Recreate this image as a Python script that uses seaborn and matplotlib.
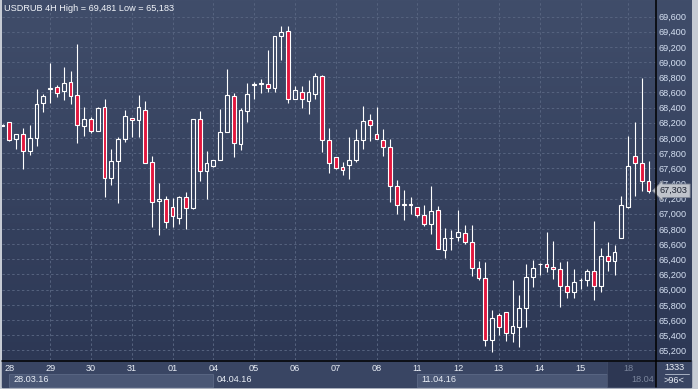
import numpy as np
import pandas as pd
import matplotlib
matplotlib.use("Agg")
import matplotlib.pyplot as plt
import matplotlib.transforms as mtransforms
from matplotlib.patches import Rectangle
from matplotlib.lines import Line2D
from matplotlib.colors import LinearSegmentedColormap
import seaborn as sns

# ---- data (one row per candle) ----
title = "USDRUB 4H High = 69,481 Low = 65,183"

opens = [68160, 68205, 67990, 68047, 67823, 67995, 68456, 68640, 68667, 68623,
         68733, 68561, 68153, 68245, 68087, 68412, 67467, 67691, 67981, 68267,
         68232, 68364, 67678, 67164, 67200, 67094, 66940, 67217, 67081, 68245,
         67560, 67630, 67705, 68074, 68548, 67924, 68359, 68698, 68715, 68706,
         68654, 69339, 69405, 68509, 68605, 68491, 68574, 68812, 67968, 67744,
         67612, 67648, 67705, 67968, 68236, 68052, 67968, 67876, 67362, 67118,
         67125, 67085, 66980, 66861, 67046, 66518, 66677, 66690, 66743, 66624,
         66281, 66149, 65332, 65666, 65701, 65433, 65512, 65754, 66163, 66334,
         66334, 66299, 66272, 66044, 65965, 66123, 66123, 66242, 66044, 66439,
         66374, 66685, 67085, 67757, 67665, 67428]
highs = [68180, 68210, 68050, 68135, 68170, 68645, 68579, 68987, 68693, 68935,
         68882, 69238, 68403, 68276, 68403, 68513, 67854, 68008, 68368, 68267,
         68566, 68487, 67762, 67402, 67235, 67213, 67235, 67287, 68254, 68355,
         67823, 67705, 68381, 68908, 68588, 68390, 68724, 68737, 68777, 69159,
         69343, 69481, 69475, 68689, 68684, 68763, 68856, 68829, 68131, 67750,
         67683, 68009, 68122, 68421, 68315, 68408, 68118, 67986, 67445, 67314,
         67221, 67090, 67116, 67366, 67103, 66813, 66786, 67050, 66848, 66852,
         66378, 66365, 65732, 65688, 65705, 66128, 65930, 66338, 66391, 66356,
         66764, 66641, 66365, 66382, 66272, 66158, 66272, 66905, 66554, 66624,
         66593, 67235, 68025, 68214, 68794, 67700]
lows = [68155, 67960, 67858, 67595, 67779, 67893, 68346, 68465, 68544, 68500,
        68443, 67937, 68030, 68069, 68087, 67226, 67384, 67147, 67951, 68017,
        68017, 67665, 66831, 66725, 66817, 66831, 66866, 66804, 67068, 67437,
        67200, 67621, 67705, 68074, 67744, 67845, 68214, 68517, 68597, 68601,
        68610, 69027, 68465, 68509, 68394, 68320, 68517, 67819, 67542, 67595,
        67516, 67463, 67687, 67858, 67964, 67981, 67766, 67160, 66997, 66923,
        66993, 66962, 66839, 66738, 66532, 66422, 66523, 66641, 66598, 66180,
        66123, 65262, 65183, 65403, 65328, 65315, 65249, 65504, 66040, 66198,
        66233, 66145, 65776, 65886, 65890, 66004, 66044, 65864, 65969, 66251,
        66198, 66680, 67080, 67235, 67305, 67279]
closes = [68175, 67968, 68047, 67823, 67995, 68443, 68548, 68653, 68588, 68719,
          68553, 68166, 68245, 68087, 68390, 67467, 67691, 67986, 68285, 68236,
          68403, 67674, 67160, 67200, 66888, 66967, 67217, 67081, 68245, 67560,
          67674, 67705, 68074, 68561, 67929, 68368, 68579, 68706, 68724, 68654,
          69343, 69392, 68509, 68627, 68509, 68605, 68816, 67968, 67665, 67599,
          67573, 67705, 67973, 68223, 68166, 67981, 67876, 67362, 67112, 67125,
          67118, 66980, 66861, 67032, 66532, 66677, 66685, 66756, 66624, 66281,
          66149, 65332, 65622, 65504, 65425, 65517, 65754, 66163, 66286, 66342,
          66294, 66268, 66044, 65965, 66097, 66131, 66242, 66044, 66439, 66374,
          66492, 67112, 67630, 67665, 67428, 67303]

# candle index where each trading day starts
day_idx = [1, 7, 13, 19, 25, 31, 37, 43, 49, 55, 61, 67, 73, 79, 85, 92]
day_labels = ["28", "29", "30", "31", "01", "04", "05", "06", "07", "08",
              "11", "12", "13", "14", "15", "18"]
week_idx = [1, 31, 61]
week_labels = ["28.03.16", "04.04.16", "11.04.16"]
last_week_label = "18.04"
price_ticks = list(range(65200, 69601, 200))
last_label = "67,303"
bar_count_label = "1333"
visible_label = ">96<"

df = pd.DataFrame({"open": opens, "high": highs, "low": lows, "close": closes})
df["idx"] = np.arange(len(df))
df["up"] = df["close"] >= df["open"]
df["top"] = df[["open", "close"]].max(axis=1)
df["bot"] = df[["open", "close"]].min(axis=1)

# ---- style ----
W, H = 698, 389
sns.set_style("dark")
plt.rcParams['font.family'] = ['Liberation Sans', 'DejaVu Sans']
FS = 6.6
RED = '#e3173e'
TXT = '#e8edf5'
DIM = '#7a859c'

fig = plt.figure(figsize=(W / 100, H / 100), dpi=100, facecolor='#c6cbd4')

def fx(x):
    return x / W

def fy(y):
    return 1 - y / H

# gradient background behind chart and price scale
bg = fig.add_axes([fx(1.5), fy(360), fx(691 - 1.5), 360 / H])
grad = np.linspace(0, 1, 256).reshape(-1, 1)
cmap = LinearSegmentedColormap.from_list("bg", ["#404d6a", "#2d3855"])
bg.imshow(grad, aspect='auto', cmap=cmap, extent=[0, 1, 0, 1])
bg.set_axis_off()

# bottom date strip
fig.add_artist(Rectangle((fx(1.5), fy(386.5)), fx(691 - 1.5), 26.5 / H,
                         transform=fig.transFigure, color='#394563', zorder=1))

# main chart axes (above the strip so the day labels show)
ax = fig.add_axes([fx(1.5), fy(360), fx(655.5 - 1.5), 360 / H])
ax.set_zorder(3)
ax.patch.set_alpha(0)
step, x0 = 6.8, 2.5
ax.set_xlim((1.5 - x0) / step, (655.5 - x0) / step)
ax.set_ylim(65073, 69818)

# wicks (split so hollow bodies stay empty)
ax.vlines(df["idx"], df["top"], df["high"], color='white', lw=0.8, zorder=3)
ax.vlines(df["idx"], df["low"], df["bot"], color='white', lw=0.8, zorder=3)
# bodies
heights = np.maximum(df["top"] - df["bot"], 10)
faces = [('none' if u else RED) for u in df["up"]]
ax.bar(df["idx"], heights, bottom=df["bot"], width=0.56, color=faces,
       edgecolor='white', linewidth=0.8, zorder=4)

# grid and ticks
ax.set_yticks(price_ticks)
ax.set_yticklabels([f"{p:,}" for p in price_ticks])
ax.yaxis.tick_right()
ax.set_xticks(day_idx)
ax.set_xticklabels(day_labels)
ax.tick_params(axis='y', length=0, pad=2.0, labelsize=FS, labelcolor='#d5e0f2')
ax.tick_params(axis='x', length=0, pad=2.6, labelsize=FS, labelcolor=TXT)
ax.get_xticklabels()[-1].set_color(DIM)
ax.grid(True, color='#56637f', linestyle=(0, (2.5, 2.5)), linewidth=0.7, zorder=1)
ax.xaxis.get_gridlines()[0].set_visible(False)
for s in ax.spines.values():
    s.set_visible(False)

# week bands and labels in the lower strip
btrans = mtransforms.blended_transform_factory(ax.transData, fig.transFigure)
band_edges = [(week_idx[0], week_idx[1]), (week_idx[2], (607 - x0) / step)]
for a, b in band_edges:
    fig.add_artist(Rectangle((a, fy(386.5)), b - a, 13 / H, transform=btrans,
                             facecolor='#4a5775', edgecolor='#5c6986', lw=0.6, zorder=1.2))
for i, lab in zip(week_idx, week_labels):
    fig.text(i + 0.55, fy(380), lab, transform=btrans, ha='left', va='center',
             fontsize=FS, color=TXT, zorder=4)

# darker overlay for the current day
fig.add_artist(Rectangle((fx(607), fy(386.5)), fx(655.5 - 607), 26 / H,
                         transform=fig.transFigure, facecolor='#2a334e', alpha=0.75,
                         edgecolor='#4a5570', lw=0.5, zorder=1.5))
fig.text(fx(654), fy(380), last_week_label, ha='right', va='center',
         fontsize=FS, color=DIM, zorder=4)

# frame lines
fig.add_artist(Line2D([fx(655.5)] * 2, [fy(0), fy(386.5)], color='black', lw=1.1,
                      transform=fig.transFigure, zorder=5))
fig.add_artist(Line2D([fx(1.5), fx(691)], [fy(360.5)] * 2, color='black', lw=1.1,
                      transform=fig.transFigure, zorder=5))

# bottom right counters
fig.text(fx(674), fy(367), bar_count_label, ha='center', va='center',
         fontsize=FS, color=TXT, zorder=4)
fig.add_artist(Line2D([fx(665), fx(689)], [fy(373.5)] * 2, color='#a8b1c2', lw=0.7,
                      transform=fig.transFigure, zorder=5))
fig.text(fx(674), fy(380.5), visible_label, ha='center', va='center',
         fontsize=FS, color=TXT, zorder=4)

# last price tag (covers the scale labels underneath, as in the terminal)
ax.annotate(last_label, xy=(1, df["close"].iloc[-1]), xycoords=ax.get_yaxis_transform(),
            xytext=(3.2, 0), textcoords='offset points', ha='left', va='center',
            fontsize=FS, color='#1b2130', annotation_clip=False, zorder=10,
            bbox=dict(boxstyle='larrow,pad=0.25', fc='#bfc3cb', ec='#7e8594', lw=0.6))

# title
fig.text(fx(4), fy(8.5), title, ha='left', va='center', fontsize=FS, color='#f2f5fa', zorder=4)

fig.savefig("out.png", dpi=100, facecolor=fig.get_facecolor())
